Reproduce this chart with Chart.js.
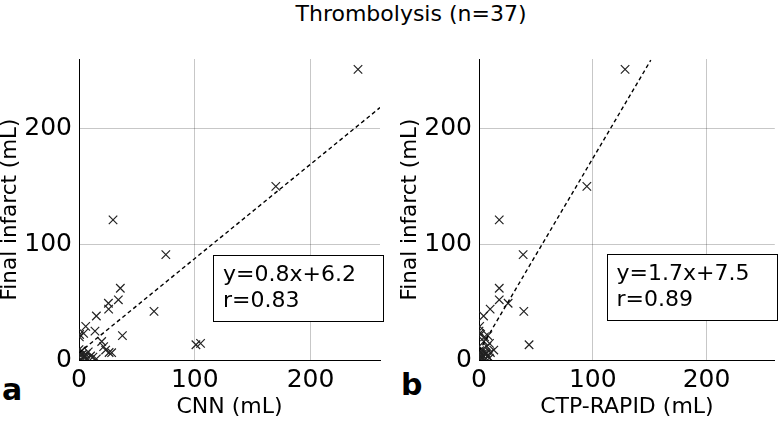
<!DOCTYPE html>
<html>
<head>
<meta charset="utf-8">
<script src="https://cdn.jsdelivr.net/npm/chart.js@4.4.0/dist/chart.umd.min.js"></script>
<style>
  html, body { margin: 0; padding: 0; background: #fff; }
  body { width: 782px; height: 421px; position: relative; overflow: hidden; font-family: "DejaVu Sans", sans-serif; }
  canvas { position: absolute; top: 0; }
  #title { position: absolute; top: 0; left: 0; width: 782px; text-align: center; font-size: 22px; line-height: 28px; padding-left: 40px; box-sizing: border-box; color: #000; }
  .letter { position: absolute; font-weight: bold; font-size: 30px; line-height: 30px; color: #000; }
</style>
</head>
<body>
<div id="title">Thrombolysis (n=37)</div>
<div class="letter" style="left:2px; top:375px;">a</div>
<div class="letter" style="left:401px; top:370px;">b</div>
<canvas id="ca" width="400" height="421" style="left:0px;"></canvas>
<canvas id="cb" width="382" height="421" style="left:400px;"></canvas>
<script>
// ---- data ----
const finalInfarct = [251, 150, 121, 91, 62, 52, 49, 44, 42, 38, 29, 25, 23, 22, 21, 20, 16, 14.4, 13.2, 11.5, 8.6, 6.5, 6.3, 9, 8, 7, 6, 5, 5, 4, 3.5, 3, 2.5, 2, 1.5, 1, 0.5];
const cnnVolume    = [241, 170, 29.4, 75, 35.7, 34, 25.4, 25.6, 64.8, 15, 5.8, 13.8, 4, 0.5, 37.5, 0.3, 19.6, 105, 101, 21.3, 23, 26, 28.2, 0, 2, 8, 0.5, 3, 6, 1, 10, 4, 12, 5, 7, 15, 2];
const rapidVolume  = [128.4, 94.8, 17.8, 38.8, 17.8, 17.8, 25.6, 9.8, 39.4, 4, 0.6, 0, 0.6, 1.4, 7.8, 4.9, 4.3, 9.2, 44, 7, 13, 10, 6, 3, 0.5, 5, 1, 2, 6, 0, 4, 8, 1.5, 3, 9, 2, 5];
const fitLineAX = [0, 260];
const fitLineAY = [6.2, 218];
const fitLineBX = [0, 151];
const fitLineBY = [7.5, 259];
const tickValues = [0, 100, 200];
const axisMax = 260;
const panelATexts = ["y=0.8x+6.2", "r=0.83"];
const panelBTexts = ["y=1.7x+7.5", "r=0.89"];
const xTitleA = "CNN (mL)";
const xTitleB = "CTP-RAPID (mL)";
const yTitle = "Final infarct (mL)";

const FONT = "'DejaVu Sans', sans-serif";

const boxPlugin = {
  id: 'eqbox',
  afterDraw(chart, args, opts) {
    const ca = chart.chartArea;
    const ctx = chart.ctx;
    const x = ca.left + opts.dx, y = ca.top + opts.dy;
    ctx.save();
    ctx.fillStyle = '#fff';
    ctx.fillRect(x, y, opts.w, opts.h);
    ctx.strokeStyle = '#000';
    ctx.lineWidth = 1;
    ctx.strokeRect(Math.round(x) + 0.5, Math.round(y) + 0.5, opts.w, opts.h);
    ctx.fillStyle = '#000';
    ctx.font = opts.fontSize + 'px ' + FONT;
    ctx.textBaseline = 'alphabetic';
    opts.lines.forEach((t, i) => ctx.fillText(t, x + opts.tx, y + opts.ty + i * opts.lh));
    ctx.restore();
  }
};

function makeChart(id, xs, lineX, lineY, xTitle, texts, yWidth, padRight, box) {
  const pts = xs.map((v, i) => ({ x: v, y: finalInfarct[i] }));
  const linePts = lineX.map((v, i) => ({ x: v, y: lineY[i] }));
  return new Chart(document.getElementById(id), {
    type: 'scatter',
    data: {
      datasets: [
        {
          data: pts,
          pointStyle: 'crossRot',
          pointRadius: 6,
          pointBorderWidth: 1.2,
          borderColor: '#222',
          backgroundColor: '#222',
          showLine: false,
          order: 2
        },
        {
          data: linePts,
          showLine: true,
          borderColor: '#000',
          borderWidth: 1.4,
          borderDash: [4, 3],
          pointRadius: 0,
          fill: false,
          order: 1
        }
      ]
    },
    options: {
      responsive: false,
      animation: false,
      events: [],
      layout: { padding: { top: 59, right: padRight, bottom: 0, left: 0 } },
      plugins: {
        legend: { display: false },
        tooltip: { enabled: false },
        eqbox: Object.assign({ lines: texts, fontSize: 22, lh: 26 }, box)
      },
      scales: {
        x: {
          type: 'linear', min: 0, max: axisMax,
          afterBuildTicks: s => { s.ticks = tickValues.map(v => ({ value: v })); },
          afterFit: s => { s.height = 61; },
          grid: { color: 'rgba(0,0,0,0.22)', drawTicks: false, lineWidth: 1 },
          border: { display: true, color: '#000', width: 1 },
          ticks: { color: '#000', padding: 5, font: { family: FONT, size: 25 }, maxRotation: 0 },
          title: { display: true, text: xTitle, color: '#000', font: { family: FONT, size: 22 }, padding: { top: 0, bottom: 1 } }
        },
        y: {
          type: 'linear', min: 0, max: axisMax,
          afterBuildTicks: s => { s.ticks = tickValues.map(v => ({ value: v })); },
          afterFit: s => { s.width = yWidth; },
          grid: { color: 'rgba(0,0,0,0.22)', drawTicks: false, lineWidth: 1 },
          border: { display: true, color: '#000', width: 1 },
          ticks: { color: '#000', padding: 7, font: { family: FONT, size: 25 } },
          title: { display: true, text: yTitle, color: '#000', font: { family: FONT, size: 21.5, lineHeight: 1 }, padding: { top: 0, bottom: 0 } }
        }
      }
    },
    plugins: [boxPlugin]
  });
}

makeChart('ca', cnnVolume, fitLineAX, fitLineAY, xTitleA, panelATexts, 79, 20,
  { dx: 134, dy: 196, w: 170, h: 66, tx: 10, ty: 26 });
makeChart('cb', rapidVolume, fitLineBX, fitLineBY, xTitleB, panelBTexts, 79, 1,
  { dx: 128, dy: 195, w: 170, h: 66, tx: 9.5, ty: 26 });
</script>
</body>
</html>
